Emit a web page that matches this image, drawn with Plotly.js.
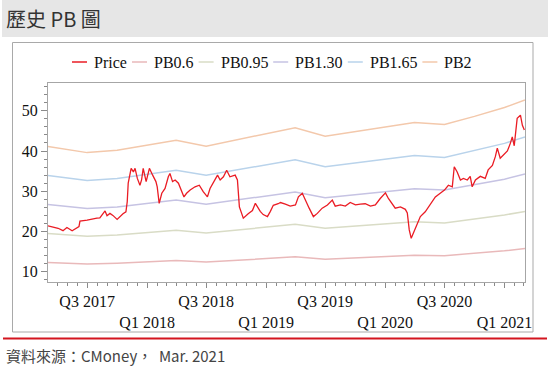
<!DOCTYPE html>
<html><head><meta charset="utf-8">
<script src="https://cdn.plot.ly/plotly-3.0.1.min.js"></script>
<style>html,body{margin:0;padding:0;background:#fff;}#chart{width:550px;height:390px;}</style>
</head><body><div id="chart"></div>
<script>
// ---- data ----
const priceDates = [
  '2017-03-03','2017-03-18','2017-04-03','2017-04-18','2017-04-30','2017-05-16','2017-05-31','2017-06-06','2017-06-09','2017-07-01',
  '2017-07-31','2017-08-09','2017-08-25','2017-08-31','2017-09-09','2017-09-18','2017-10-01','2017-10-10','2017-10-19','2017-10-28',
  '2017-11-01','2017-11-04','2017-11-13','2017-11-20','2017-11-25','2017-12-02','2017-12-10','2017-12-15','2017-12-20','2017-12-29',
  '2018-01-08','2018-01-18','2018-01-28','2018-02-01','2018-02-07','2018-02-15','2018-02-25','2018-03-07','2018-03-12','2018-03-20',
  '2018-03-28','2018-04-07','2018-04-17','2018-04-24','2018-05-02','2018-05-13','2018-05-28','2018-06-10','2018-06-22','2018-07-05',
  '2018-07-13','2018-07-25','2018-08-05','2018-08-13','2018-08-23','2018-09-02','2018-09-12','2018-09-28','2018-10-05','2018-10-11',
  '2018-10-23','2018-11-07','2018-11-20','2018-11-29','2018-12-05','2018-12-14','2018-12-23','2019-01-05','2019-01-14','2019-01-23',
  '2019-02-07','2019-02-14','2019-03-01','2019-03-16','2019-04-01','2019-04-10','2019-04-22','2019-05-01','2019-05-13','2019-05-26',
  '2019-06-07','2019-06-22','2019-07-08','2019-07-23','2019-08-01','2019-08-17','2019-09-01','2019-09-16','2019-10-02','2019-10-17',
  '2019-11-01','2019-11-17','2019-12-02','2019-12-17','2020-01-02','2020-01-11','2020-01-23','2020-02-01','2020-02-17','2020-03-03',
  '2020-03-09','2020-03-15','2020-03-21','2020-03-27','2020-04-09','2020-04-18','2020-05-03','2020-05-19','2020-06-03','2020-06-18',
  '2020-07-01','2020-07-13','2020-07-25','2020-07-31','2020-08-09','2020-08-19','2020-08-28','2020-09-09','2020-09-18','2020-09-24',
  '2020-10-04','2020-10-19','2020-11-03','2020-11-12','2020-11-25','2020-12-04','2020-12-10','2020-12-19','2020-12-28','2021-01-10',
  '2021-01-19','2021-01-25','2021-01-31','2021-02-09','2021-02-19','2021-02-25','2021-03-03'];
const priceValues = [
  21.4,21.2,20.8,20.2,21.0,20.2,20.8,21.2,22.6,22.8,
  23.3,23.4,25.1,23.9,24.5,24.0,23.0,23.8,24.4,24.9,
  27.4,32.0,35.7,34.8,35.7,33.2,31.5,32.8,35.7,32.4,
  35.7,34.0,32.4,31.1,27.0,29.5,30.7,33.6,34.4,32.4,
  32.8,32.0,29.9,28.6,29.5,30.3,31.1,31.5,29.9,28.6,
  30.7,32.4,34.0,32.8,33.6,35.2,33.6,34.0,32.8,26.1,
  23.3,24.4,25.2,27.0,26.1,25.0,24.2,23.7,25.0,26.5,
  26.9,27.2,26.8,26.3,26.6,28.6,29.5,27.8,25.8,23.7,
  24.5,25.8,26.6,27.8,26.3,26.6,26.3,27.2,26.6,26.8,
  26.9,26.3,26.6,28.2,29.6,28.2,26.9,25.8,26.1,25.5,
  24.6,20.4,18.3,19.5,22.0,23.7,24.9,26.9,28.6,29.5,
  30.3,31.5,31.1,36.1,34.8,32.8,33.2,32.8,33.7,31.1,
  32.8,33.7,33.2,35.3,36.4,38.6,40.7,38.2,39.0,40.0,
  41.9,43.5,41.3,48.1,48.9,46.4,45.2];

const bandDates = ['2017-03-03','2017-07-01','2017-10-01','2018-01-01','2018-03-31','2018-07-01','2018-10-01','2019-01-01','2019-03-31','2019-07-01','2019-10-01','2020-01-01','2020-03-31','2020-07-01','2020-10-01','2021-01-01','2021-03-05'];
const pb060 = [12.3,11.9,12.1,12.5,12.8,12.4,12.8,13.3,13.7,13.1,13.4,13.8,14.1,14.0,14.6,15.2,15.8];
const pb095 = [19.5,18.8,19.1,19.7,20.3,19.6,20.3,21.1,21.8,20.8,21.3,21.9,22.4,22.1,23.1,24.1,25.0];
const pb130 = [26.7,25.7,26.1,27.0,27.8,26.8,27.8,28.9,29.8,28.4,29.1,29.9,30.6,30.3,31.6,33.0,34.3];
const pb165 = [33.9,32.7,33.2,34.2,35.2,34.0,35.3,36.6,37.8,36.1,37.0,38.0,38.9,38.4,40.1,41.9,43.5];
const pb200 = [41.1,39.6,40.2,41.5,42.7,41.2,42.8,44.4,45.8,43.7,44.8,46.0,47.1,46.6,48.6,50.8,52.7];

const seriesNames = ['Price','PB0.6','PB0.95','PB1.30','PB1.65','PB2'];
const tickDates = ['2017-07-01','2018-01-01','2018-07-01','2019-01-01','2019-07-01','2020-01-01','2020-07-01','2021-01-01'];
const tickLabels = ['Q3 2017','Q1 2018','Q3 2018','Q1 2019','Q3 2019','Q1 2020','Q3 2020','Q1 2021'];
const yTicks = [10,20,30,40,50];
const titleText = '歷史 PB 圖';
const sourceText = '資料來源：CMoney，  Mar. 2021';

// ---- styling ----
const colors = ['#ea1c24','#e9b9ba','#d9dcc6','#c6c3e3','#b9d3eb','#f3c8ab'];
const serif = 'Liberation Serif, Times New Roman, serif';
const cjk = 'Noto Sans CJK TC, Noto Sans, sans-serif';
const L = 48, R = 525, T = 83, B = 282;
const px = x => (x - L) / (R - L);
const py = y => (B - y) / (B - T);

const bands = [pb060, pb095, pb130, pb165, pb200];
const traces = bands.map((vals, i) => ({
  type: 'scatter', mode: 'lines', x: bandDates, y: vals, name: seriesNames[i + 1],
  line: {color: colors[i + 1], width: 1.5}, hoverinfo: 'skip'
}));
traces.push({
  type: 'scatter', mode: 'lines', x: priceDates, y: priceValues, name: seriesNames[0],
  line: {color: colors[0], width: 1.3}
});

const legendX = [72, 132, 198.6, 273.2, 347.8, 422.4];
const legendY = 62;
const shapes = [
  {type: 'rect', xref: 'paper', yref: 'paper', x0: px(2), x1: px(548), y0: py(37), y1: py(0), fillcolor: '#e6e6e6', line: {width: 0}, layer: 'below'},
  {type: 'rect', xref: 'paper', yref: 'paper', x0: px(12.5), x1: px(533), y0: py(332), y1: py(42.5), fillcolor: 'rgba(0,0,0,0)', line: {color: '#a9a9a9', width: 1}, layer: 'below'},
  {type: 'line', xref: 'paper', yref: 'paper', x0: px(3), x1: px(547), y0: py(338.5), y1: py(338.5), line: {color: '#d3151f', width: 2}}
];
const annotations = [
  {xref: 'paper', yref: 'paper', x: px(4), y: py(19), xanchor: 'left', yanchor: 'middle', text: titleText, showarrow: false, font: {family: cjk, size: 20, color: '#333'}},
  {xref: 'paper', yref: 'paper', x: px(4), y: py(355), xanchor: 'left', yanchor: 'middle', text: sourceText, showarrow: false, font: {family: cjk, size: 15, color: '#444'}}
];
seriesNames.forEach((n, i) => {
  shapes.push({type: 'line', xref: 'paper', yref: 'paper', x0: px(legendX[i]), x1: px(legendX[i] + 15), y0: py(legendY), y1: py(legendY), line: {color: colors[i], width: 1.5}});
  annotations.push({xref: 'paper', yref: 'paper', x: px(legendX[i] + 20), y: py(legendY), xanchor: 'left', yanchor: 'middle', text: n, showarrow: false, font: {family: serif, size: 16, color: '#111'}});
});

const layout = {
  width: 550, height: 390,
  margin: {l: L, r: 550 - R, t: T, b: 390 - B, pad: 0},
  paper_bgcolor: '#fff', plot_bgcolor: '#fff',
  showlegend: false,
  font: {family: serif, size: 16, color: '#111'},
  xaxis: {
    type: 'date', range: ['2017-03-03', '2021-03-05'],
    tickmode: 'array', tickvals: tickDates,
    ticktext: tickLabels.map((t, i) => i % 2 ? '\u00a0<br>' + t : t),
    ticks: 'outside', ticklen: 5, tickcolor: '#8a8a8a', tickwidth: 1,
    minor: {dtick: 'M1', tick0: '2017-01-01', ticks: 'outside', ticklen: 3, tickcolor: '#8a8a8a', showgrid: false},
    showgrid: false, zeroline: false,
    showline: true, mirror: true, linecolor: '#a6a6a6', linewidth: 1,
    tickfont: {family: serif, size: 16, color: '#111'}
  },
  yaxis: {
    range: [7.45, 56.9], tickmode: 'array', tickvals: yTicks,
    ticks: 'outside', ticklen: 6, tickcolor: '#8a8a8a', tickwidth: 1,
    minor: {dtick: 2, tick0: 0, ticks: 'outside', ticklen: 3, tickcolor: '#8a8a8a', showgrid: false},
    showgrid: false, zeroline: false,
    showline: true, mirror: true, linecolor: '#a6a6a6', linewidth: 1,
    tickfont: {family: serif, size: 16, color: '#111'}
  },
  shapes: shapes,
  annotations: annotations
};

Plotly.newPlot('chart', traces, layout, {displayModeBar: false, staticPlot: true});
</script>
</body></html>
